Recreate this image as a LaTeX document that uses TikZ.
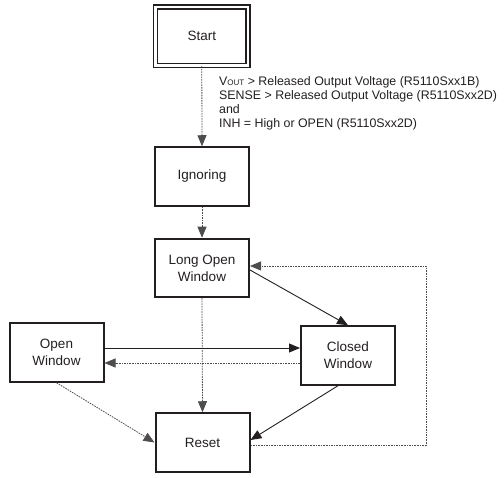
\documentclass[tikz,border=0pt]{standalone}
\usepackage{fontspec}
\setmainfont{Liberation Sans}
\usetikzlibrary{arrows.meta}
\definecolor{ink}{RGB}{35,31,32}
\begin{document}
\begin{tikzpicture}[x=1pt,y=-1pt,
    state/.style={draw=ink,line width=2pt,minimum width=94pt,minimum height=58.5pt,
      align=center,text=ink,font=\fontsize{13.5}{17}\selectfont},
    go/.style={draw=ink,line width=0.9pt,-{Triangle[length=11pt,width=9pt]}},
    fall/.style={go,dash pattern=on 1.6pt off 1pt,draw=ink!80,line width=0.8pt}]
  \useasboundingbox (0,0) rectangle (504,478);

  \node[state,line width=1.6pt,double=white,double distance=2.4pt,minimum width=92.9pt,minimum height=58.3pt] (start) at (201.8,36.2) {Start};
  \node[state] (ign) at (202,176.5) {Ignoring};
  \node[state] (low) at (202,268) {Long Open\\Window};
  \node[state] (open) at (56.5,352.5) {Open\\Window};
  \node[state] (closed) at (348,355.5) {Closed\\Window};
  \node[state] (reset) at (202.5,442.5) {Reset};

  \node[anchor=north west,inner sep=0pt,align=left,text=ink,font=\fontsize{12.4}{14}\selectfont] (cond) at (219,76)
    {V{\fontsize{8}{8}\selectfont OUT} > Released Output Voltage (R5110Sxx1B)\\
     SENSE > Released Output Voltage (R5110Sxx2D)\\
     and\\
     INH = High or OPEN (R5110Sxx2D)};

  \coordinate (low1) at ([yshift=2pt]low.east);
  \coordinate (low2) at ([yshift=-2pt]low.east);
  \coordinate (ow1) at ([yshift=4.5pt]open.east);
  \coordinate (cw1) at ([yshift=-7.5pt]closed.west);
  \coordinate (rst1) at ([yshift=2.5pt]reset.east);
  \coordinate (rst2) at ([yshift=-2.5pt]reset.east);
  \coordinate (loopx) at (426,0);

  \draw[fall] (start.south) -- (ign.north);
  \draw[fall] (ign.south) -- (low.north);
  \draw[fall] (low.south) -- (reset.north);
  \draw[go] (low2) -- (closed.north);
  \draw[go] (ow1) -- (ow1 -| closed.west);
  \draw[fall] (cw1) -- (cw1 -| open.east);
  \draw[fall] (open.south) -- (reset.west);
  \draw[go] ([xshift=-10pt]closed.south) -- (rst1);
  \draw[fall] (rst2) -- (rst2 -| loopx) -- (low1 -| loopx) -- (low1);
\end{tikzpicture}
\end{document}
